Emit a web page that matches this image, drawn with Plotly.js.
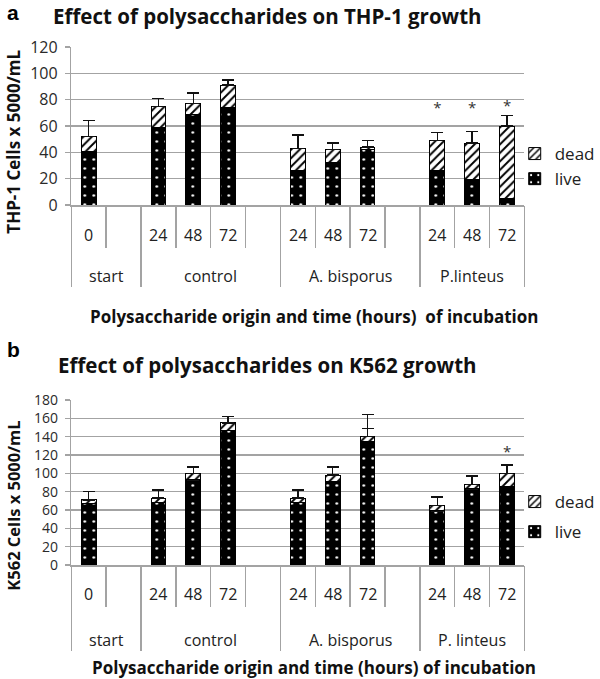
<!DOCTYPE html>
<html>
<head>
<meta charset="utf-8">
<script src="https://cdn.plot.ly/plotly-3.0.1.min.js"></script>
<style>html,body{margin:0;padding:0;background:#fff;}#chart{width:600px;height:679px;}</style>
</head>
<body>
<div id="chart"></div>
<script>
// ---------- data ----------
const groupNamesTHP = ['start', 'control', 'A. bisporus', 'P.linteus'];
const groupNamesK562 = ['start', 'control', 'A. bisporus', 'P. linteus'];
const timeLabels = [['0', ''], ['24', '48', '72', ''], ['24', '48', '72', ''], ['24', '48', '72']];

// THP-1 (cells x 5000/mL)
const thpLive = [41, null, 59, 69, 74, null, 26, 32, 42, null, 26, 19, 5];
const thpDead = [11, null, 16, 8, 17, null, 17, 10, 2, null, 23, 28, 55];
const thpErr = [12, null, 6, 8, 4, null, 10, 5, 5, null, 6, 9, 8];
const thpStar = [null, null, null, null, null, null, null, null, null, null, 73, 73, 74];

// K562 (cells x 5000/mL)
const k562Live = [67, null, 68, 93, 147, null, 68, 91, 135, null, 59, 83, 86];
const k562Dead = [4, null, 5, 7, 8, null, 5, 7, 5, null, 6, 5, 14];
const k562DeadErr = [9, null, 9, 7, 7, null, 9, 9, 24, null, 9, 9, 9];
const k562LiveErr = [null, null, null, null, null, null, null, null, 14, null, null, null, null];
const k562Star = [null, null, null, null, null, null, null, null, null, null, null, null, 122];

// ---------- helpers ----------
const cats = [];
const catTimes = [];
const groupCenters = [];
const groupBounds = [-0.5];
let idx = 0;
timeLabels.forEach((times, g) => {
  const start = idx;
  times.forEach((t, k) => { cats.push('g' + g + 't' + k); catTimes.push(t); idx++; });
  groupCenters.push(start + (times.length - 1) / 2);
  groupBounds.push(idx - 0.5);
});
const RANGE = [-0.5, cats.length - 0.5];
const H = 679, W = 600;
const py = p => 1 - p / H;
const px = p => p / W;

const FONT = '"Open Sans", Lato, sans-serif';
const GRID = '#a3a3a3';
const livePattern = {shape: '.', bgcolor: 'black', fgcolor: 'white', size: 9, solidity: 0.07};
const deadPattern = {shape: '/', bgcolor: 'white', fgcolor: 'black', size: 6, solidity: 0.32};
const zeros = a => a.map(() => 0);

function barTraces(live, dead, deadErr, liveErr, xa, ya, legend) {
  const tr = [];
  const liveTr = {
    type: 'bar', name: 'live', legendgroup: 'live', legendrank: 2, x: cats, y: live, xaxis: xa, yaxis: ya, legend: legend,
    marker: {color: 'black', pattern: livePattern, line: {color: 'black', width: 1}},
    hoverinfo: 'skip'
  };
  if (liveErr) {
    liveTr.error_y = {type: 'data', symmetric: false, array: liveErr, arrayminus: zeros(liveErr),
      color: '#111', thickness: 1.5, width: 6};
  }
  tr.push(liveTr);
  tr.push({
    type: 'bar', name: 'dead', legendgroup: 'dead', legendrank: 1, x: cats, y: dead, xaxis: xa, yaxis: ya, legend: legend,
    marker: {color: 'white', pattern: deadPattern, line: {color: 'black', width: 1}},
    error_y: {type: 'data', symmetric: false, array: deadErr, arrayminus: zeros(deadErr),
      color: '#111', thickness: 1.5, width: 6},
    hoverinfo: 'skip'
  });
  return tr;
}

const data = [
  ...barTraces(thpLive, thpDead, thpErr, null, 'x', 'y', 'legend'),
  {type: 'scatter', mode: 'text', x: cats, y: thpStar, text: thpStar.map(v => v == null ? '' : '*'),
   textfont: {family: FONT, size: 15, color: '#333'}, xaxis: 'x', yaxis: 'y', showlegend: false, hoverinfo: 'skip'},
  {type: 'scatter', x: [], y: [], xaxis: 'x3', yaxis: 'y', showlegend: false},
  ...barTraces(k562Live, k562Dead, k562DeadErr, k562LiveErr, 'x2', 'y2', 'legend2'),
  {type: 'scatter', mode: 'text', x: cats, y: k562Star, text: k562Star.map(v => v == null ? '' : '*'),
   textfont: {family: FONT, size: 15, color: '#333'}, xaxis: 'x2', yaxis: 'y2', showlegend: false, hoverinfo: 'skip'},
  {type: 'scatter', x: [], y: [], xaxis: 'x4', yaxis: 'y2', showlegend: false}
];

const XDOM = [px(73), px(537)];
function catAxis(anchor, len) {
  return {domain: XDOM, anchor: anchor, type: 'category', categoryorder: 'array', categoryarray: cats,
    range: RANGE, showticklabels: false, ticks: 'outside', tickson: 'boundaries', ticklen: len,
    tickcolor: GRID, tickwidth: 1.5, showgrid: false, zeroline: false, showline: true,
    linecolor: GRID, linewidth: 1.5, fixedrange: true};
}
function groupAxis(over, anchor, len) {
  return {overlaying: over, anchor: anchor, type: 'linear', range: RANGE, tickmode: 'array',
    tickvals: groupBounds, ticks: 'outside', ticklen: len, tickcolor: GRID, tickwidth: 1.5,
    showticklabels: false, showgrid: false, zeroline: false, showline: false, fixedrange: true};
}
function valAxis(anchor, dom, rng, fs) {
  return {domain: dom, anchor: anchor, range: rng, dtick: 20, tick0: 0, showgrid: true,
    gridcolor: GRID, gridwidth: 1.5, zeroline: false, showline: true, linecolor: GRID, linewidth: 1.5,
    ticks: 'outside', ticklen: 5, tickcolor: GRID, tickwidth: 1.5, ticklabelstandoff: 4,
    tickfont: {family: FONT, size: fs, color: '#2a2a2a'}, fixedrange: true};
}

const annotations = [];
function addLabels(xa, xg, groupNames, rowY, grpY) {
  cats.forEach((c, i) => {
    if (catTimes[i] !== '') annotations.push({xref: xa, yref: 'paper', x: c, y: py(rowY), text: catTimes[i],
      showarrow: false, font: {family: FONT, size: 16, color: '#222'}, xanchor: 'center', yanchor: 'middle'});
  });
  groupNames.forEach((g, k) => {
    annotations.push({xref: xg, yref: 'paper', x: groupCenters[k], y: py(grpY), text: g,
      showarrow: false, font: {family: FONT, size: 16, color: '#222'}, xanchor: 'center', yanchor: 'middle'});
  });
}
addLabels('x', 'x3', groupNamesTHP, 235, 276);
addLabels('x2', 'x4', groupNamesK562, 594, 640);

function txt(text, x, y, size, extra) {
  annotations.push(Object.assign({xref: 'paper', yref: 'paper', x: px(x), y: py(y), text: text, showarrow: false,
    font: {family: FONT, size: size, color: '#111'}, xanchor: 'center', yanchor: 'middle'}, extra || {}));
}
const LETTER = {family: 'Liberation Sans, Arial, sans-serif', size: 21, color: '#000'};
txt('<b>a</b>', 5, 12, 21, {xanchor: 'left', font: LETTER});
txt('<b>b</b>', 5, 350, 21, {xanchor: 'left', font: LETTER});
txt('<b>Effect of polysaccharides on THP-1 growth</b>', 274, 16, 20.5);
txt('<b>Effect of polysaccharides on K562 growth</b>', 274, 365, 20.5);
txt('<b>Polysaccharide origin and time (hours)  of incubation</b>', 321, 316, 17);
txt('<b>Polysaccharide origin and time (hours) of incubation</b>', 322, 667, 17);
txt('<b>THP-1 Cells x 5000/mL</b>', 13, 142, 17, {textangle: -90});
txt('<b>K562 Cells x 5000/mL</b>', 13, 506, 16.5, {textangle: -90});

const legendBase = {xanchor: 'left', yanchor: 'top', traceorder: 'grouped', bgcolor: 'rgba(0,0,0,0)',
  font: {family: FONT, size: 17, color: '#222'}, itemwidth: 30, tracegroupgap: 0};

const layout = {
  width: W, height: H,
  margin: {l: 0, r: 0, t: 0, b: 0},
  paper_bgcolor: 'white', plot_bgcolor: 'white',
  barmode: 'stack', bargap: 0.58,
  showlegend: true,
  xaxis: catAxis('y', 41),
  xaxis3: groupAxis('x', 'y', 81),
  yaxis: valAxis('x', [py(205), py(47)], [0, 120], 16),
  xaxis2: catAxis('y2', 40),
  xaxis4: groupAxis('x2', 'y2', 85),
  yaxis2: valAxis('x2', [py(565), py(400)], [0, 180], 14),
  legend: Object.assign({}, legendBase, {x: px(527), y: py(136)}),
  legend2: Object.assign({}, legendBase, {x: px(527), y: py(484), tracegroupgap: 5}),
  annotations: annotations
};

Plotly.newPlot('chart', data, layout, {staticPlot: true, displayModeBar: false});
</script>
</body>
</html>
